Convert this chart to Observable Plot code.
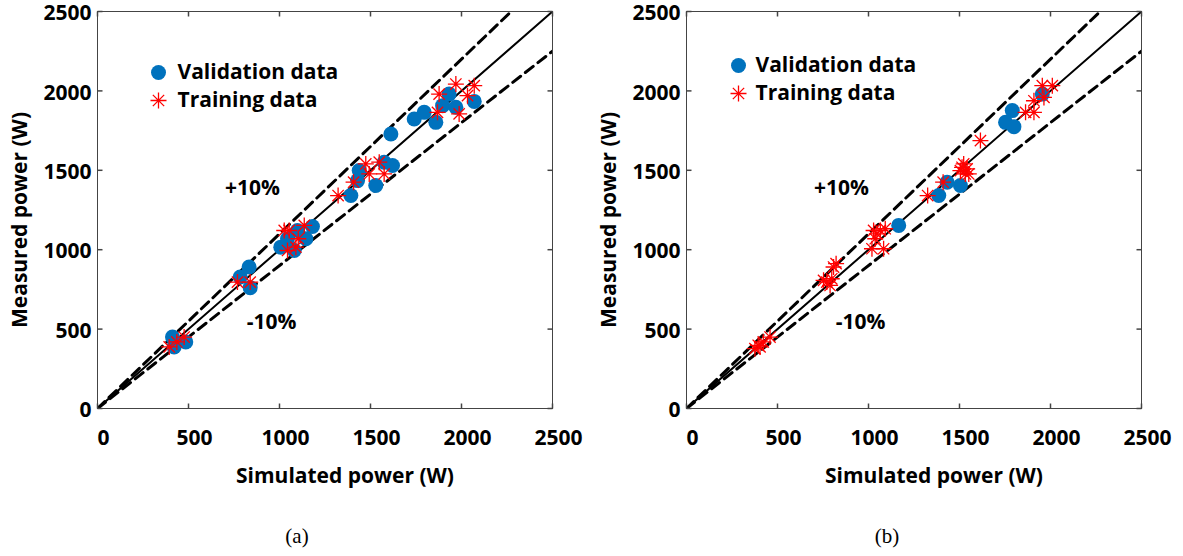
<!DOCTYPE html>
<html>
<head>
<meta charset="utf-8">
<script src="https://cdn.jsdelivr.net/npm/d3@7"></script>
<script src="https://cdn.jsdelivr.net/npm/@observablehq/plot@0.6"></script>
<style>
  body { margin: 0; background: #fff; width: 1183px; height: 556px; overflow: hidden; position: relative; }
  #panels { position: absolute; left: 0; top: 0; display: flex; }
  .cap { position: absolute; top: 524px; font-family: "Liberation Serif", "Times New Roman", serif; font-size: 21px; color: #000; transform: translateX(-50%); }
</style>
</head>
<body>
<div id="panels"></div>
<div class="cap" style="left:297px">(a)</div>
<div class="cap" style="left:887px">(b)</div>
<script>
// ---- data ----
const tickValues = [0, 500, 1000, 1500, 2000, 2500];
const refRatios = [1.1, 1.0, 0.9];   // +10%, 1:1, -10%
const refStyles = ["dash", "solid", "dash"];

const valA_x = [412, 421, 485, 784, 833, 839, 1007, 1044, 1081, 1099, 1145, 1181, 1392, 1429, 1438, 1529, 1575, 1621, 1612, 1740, 1795, 1859, 1896, 1932, 1969, 2070];
const valA_y = [450, 388, 419, 828, 891, 761, 1016, 1069, 995, 1121, 1069, 1146, 1341, 1435, 1498, 1404, 1551, 1530, 1729, 1823, 1865, 1802, 1907, 1980, 1897, 1934];
const trainA_x = [394, 436, 476, 769, 839, 1026, 1053, 1044, 1090, 1103, 1136, 1322, 1407, 1474, 1493, 1548, 1575, 1868, 1877, 1969, 2033, 2070, 1987];
const trainA_y = [388, 419, 450, 796, 796, 1121, 1121, 995, 1016, 1069, 1153, 1341, 1425, 1540, 1477, 1551, 1477, 1865, 1980, 2043, 1970, 2033, 1855];

const valB_x = [1166, 1386, 1432, 1505, 1790, 1753, 1799, 1955];
const valB_y = [1153, 1341, 1425, 1404, 1876, 1802, 1775, 1980];
const trainB_x = [376, 394, 422, 459, 404, 771, 789, 798, 808, 822, 753, 1019, 1083, 1028, 1065, 1046, 1037, 1092, 1325, 1410, 1523, 1514, 1551, 1532, 1505, 1542, 1615, 1863, 1909, 1909, 1964, 1955, 2010];
const trainB_y = [377, 398, 419, 450, 388, 796, 775, 817, 891, 912, 807, 1006, 1006, 1121, 1121, 1100, 1069, 1132, 1341, 1425, 1540, 1519, 1477, 1477, 1498, 1509, 1687, 1865, 1865, 1938, 1959, 2033, 2033];

const legendLabels = ["Validation data", "Training data"];
const bandLabels = ["+10%", "-10%"];
const xTitle = "Simulated power (W)";
const yTitle = "Measured power (W)";

// ---- symbols ----
const asterisk = {
  draw(ctx, size) {
    const r = Math.sqrt(size / Math.PI);
    for (let k = 0; k < 4; k++) {
      const a = k * Math.PI / 4;
      const c = Math.cos(a) * r, s = Math.sin(a) * r;
      ctx.moveTo(-c, -s); ctx.lineTo(c, s);
    }
  }
};
const TL = 5;
const tickUp = {draw(ctx) { ctx.moveTo(0, 0); ctx.lineTo(0, -TL); }};
const tickDown = {draw(ctx) { ctx.moveTo(0, 0); ctx.lineTo(0, TL); }};
const tickRight = {draw(ctx) { ctx.moveTo(0, 0); ctx.lineTo(TL, 0); }};
const tickLeft = {draw(ctx) { ctx.moveTo(0, 0); ctx.lineTo(-TL, 0); }};

const FONT = "'Open Sans', Lato, sans-serif";
const BLUE = "#0072BD";
const RED = "#FF0000";
const FS = 21;

function panel(vx, vy, tx, ty, leg) {
  const val = vx.map((x, i) => ({x, y: vy[i]}));
  const train = tx.map((x, i) => ({x, y: ty[i]}));
  const maxV = tickValues[tickValues.length - 1];
  const refs = refRatios.map((k, i) => ({k, style: refStyles[i]}));
  const refPts = refs.flatMap(r => [{k: r.k, style: r.style, x: 0, y: 0}, {k: r.k, style: r.style, x: maxV, y: maxV * r.k}]);
  const one = [0];
  const T = {fontWeight: 700, fill: "#000", lineAnchor: "middle", fontSize: FS};
  return Plot.plot({
    width: 589, height: 500,
    marginLeft: 97, marginRight: 37, marginTop: 11, marginBottom: 92,
    x: {domain: [0, maxV], axis: null},
    y: {domain: [0, maxV], axis: null},
    style: {fontFamily: FONT, background: "transparent", overflow: "visible"},
    marks: [
      Plot.line(refPts.filter(d => d.style === "solid"), {x: "x", y: "y", z: "k", stroke: "#000", strokeWidth: 2, clip: true}),
      Plot.line(refPts.filter(d => d.style === "dash"), {x: "x", y: "y", z: "k", stroke: "#000", strokeWidth: 3, strokeDasharray: "10,6", clip: true}),
      Plot.dot(val, {x: "x", y: "y", r: 7.5, fill: BLUE, stroke: "none"}),
      Plot.dot(train, {x: "x", y: "y", r: 8, symbol: asterisk, stroke: RED, strokeWidth: 1.3, fill: "none"}),
      Plot.frame({stroke: "#444", strokeWidth: 1}),
      Plot.dot(tickValues, {x: d => d, y: 0, symbol: tickUp, stroke: "#444", fill: "none"}),
      Plot.dot(tickValues, {x: d => d, y: maxV, symbol: tickDown, stroke: "#444", fill: "none"}),
      Plot.dot(tickValues, {x: 0, y: d => d, symbol: tickRight, stroke: "#444", fill: "none"}),
      Plot.dot(tickValues, {x: maxV, y: d => d, symbol: tickLeft, stroke: "#444", fill: "none"}),
      Plot.text(tickValues, {...T, x: d => d, y: 0, text: d => String(d), dy: 30, dx: 6}),
      Plot.text(tickValues, {...T, x: 0, y: d => d, text: d => String(d), dx: -6, dy: 2, textAnchor: "end"}),
      Plot.text(one, {...T, frameAnchor: "bottom", textAnchor: "middle", text: () => xTitle, dy: 68, dx: 20}),
      Plot.text(one, {...T, frameAnchor: "left", textAnchor: "middle", text: () => yTitle, rotate: -90, dx: -77, dy: 10}),
      // legend
      Plot.dot(one, {frameAnchor: "top-left", dx: leg.dx, dy: leg.dy, r: 7.5, fill: BLUE}),
      Plot.dot(one, {frameAnchor: "top-left", dx: leg.dx, dy: leg.dy + 28, r: 8, symbol: asterisk, stroke: RED, strokeWidth: 1.3, fill: "none"}),
      Plot.text(one, {...T, frameAnchor: "top-left", dx: leg.tx, dy: leg.dy, text: () => legendLabels[0], textAnchor: "start"}),
      Plot.text(one, {...T, frameAnchor: "top-left", dx: leg.tx, dy: leg.dy + 28, text: () => legendLabels[1], textAnchor: "start"}),
      // band labels
      Plot.text(one, {...T, frameAnchor: "top-left", textAnchor: "middle", dx: 155, dy: 177, text: () => bandLabels[0]}),
      Plot.text(one, {...T, frameAnchor: "top-left", textAnchor: "middle", dx: 174, dy: 311, text: () => bandLabels[1]})
    ]
  });
}

const host = document.getElementById("panels");
host.appendChild(panel(valA_x, valA_y, trainA_x, trainA_y, {dx: 61, dy: 61, tx: 80}));
host.appendChild(panel(valB_x, valB_y, trainB_x, trainB_y, {dx: 52, dy: 54, tx: 69}));
</script>
</body>
</html>
